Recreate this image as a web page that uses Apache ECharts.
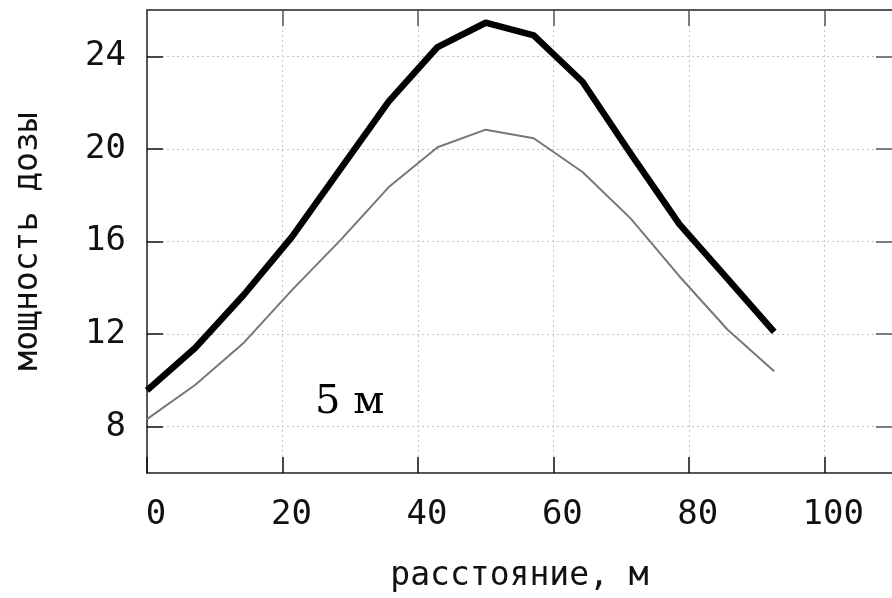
<!DOCTYPE html>
<html>
<head>
<meta charset="utf-8">
<script src="https://cdn.jsdelivr.net/npm/echarts@6/dist/echarts.min.js"></script>
<style>
html,body{margin:0;padding:0;background:#fff;}
#chart{width:892px;height:598px;}
</style>
</head>
<body>
<div id="chart"></div>
<script>
// distance along the profile, m
const distance = [0, 7.1, 14.3, 21.4, 28.6, 35.7, 42.9, 50, 57.1, 64.3, 71.4, 78.6, 85.7, 92.6];
// dose rate, thick curve
const doseThick = [9.57, 11.4, 13.7, 16.2, 19.15, 22.05, 24.4, 25.45, 24.9, 22.9, 19.8, 16.75, 14.4, 12.1];
// dose rate, thin curve
const doseThin = [8.33, 9.8, 11.63, 13.9, 16.07, 18.35, 20.07, 20.83, 20.46, 19.0, 17.0, 14.5, 12.2, 10.4];
const xTicks = [0, 20, 40, 60, 80, 100];
const yTicks = [8, 12, 16, 20, 24];
const xTitle = 'расстояние, м';
const yTitle = 'мощность дозы';
const noteText = '5 м';

const mono = 'DejaVu Sans Mono';
const pair = (xs, ys) => xs.map((x, i) => [x, ys[i]]);

const chart = echarts.init(document.getElementById('chart'), null, {renderer: 'canvas'});
const frameColor = '#222';
const gridLine = {show: true, lineStyle: {color: '#c4c4c4', width: 1, type: [2, 3]}};

chart.setOption({
  animation: false,
  backgroundColor: '#fff',
  grid: {left: 147, top: 10, right: -1, bottom: 122, containLabel: false},
  xAxis: [
    {
      type: 'value', position: 'bottom', min: 0, max: 110,
      axisLine: {show: true, onZero: false, lineStyle: {color: frameColor, width: 1.5}},
      axisTick: {show: true, inside: true, length: 16, customValues: xTicks, lineStyle: {color: '#111', width: 1.5}},
      axisLabel: {show: true, customValues: xTicks, margin: 25, fontFamily: mono, fontSize: 34, color: '#111', padding: [0, 0, 0, 18]},
      splitLine: gridLine,
      name: xTitle, nameLocation: 'middle', nameGap: 87,
      nameTextStyle: {fontFamily: mono, fontSize: 33, color: '#111'}
    },
    {
      type: 'value', position: 'top', min: 0, max: 110,
      axisLine: {show: true, onZero: false, lineStyle: {color: frameColor, width: 1.5}},
      axisTick: {show: true, inside: true, length: 16, customValues: xTicks, lineStyle: {color: '#555', width: 1.5}},
      axisLabel: {show: false},
      splitLine: {show: false}
    }
  ],
  yAxis: [
    {
      type: 'value', position: 'left', min: 6, max: 26,
      axisLine: {show: true, onZero: false, lineStyle: {color: frameColor, width: 1.5}},
      axisTick: {show: true, inside: true, length: 16, customValues: yTicks, lineStyle: {color: '#111', width: 1.5}},
      axisLabel: {show: true, customValues: yTicks, margin: 21, fontFamily: mono, fontSize: 34, color: '#111'},
      splitLine: gridLine,
      name: yTitle, nameLocation: 'middle', nameGap: 102,
      nameTextStyle: {fontFamily: mono, fontSize: 33, color: '#111'}
    },
    {
      type: 'value', position: 'right', min: 6, max: 26,
      axisLine: {show: false, onZero: false},
      axisTick: {show: true, inside: true, length: 16, customValues: yTicks, lineStyle: {color: '#555', width: 1.5}},
      axisLabel: {show: false},
      splitLine: {show: false}
    }
  ],
  series: [
    {
      type: 'line', xAxisIndex: 0, yAxisIndex: 0, data: pair(distance, doseThin),
      showSymbol: false, symbol: 'none', z: 3,
      lineStyle: {color: '#777', width: 2}
    },
    {
      type: 'line', xAxisIndex: 0, yAxisIndex: 0, data: pair(distance, doseThick),
      showSymbol: false, symbol: 'none', z: 4,
      lineStyle: {color: '#000', width: 6.5, join: 'round'}
    }
  ],
  graphic: [
    {
      type: 'text', left: 315, top: 383, z: 10,
      style: {text: noteText, fontFamily: 'DejaVu Serif', fontSize: 40, fill: '#000'}
    }
  ]
});
</script>
</body>
</html>
